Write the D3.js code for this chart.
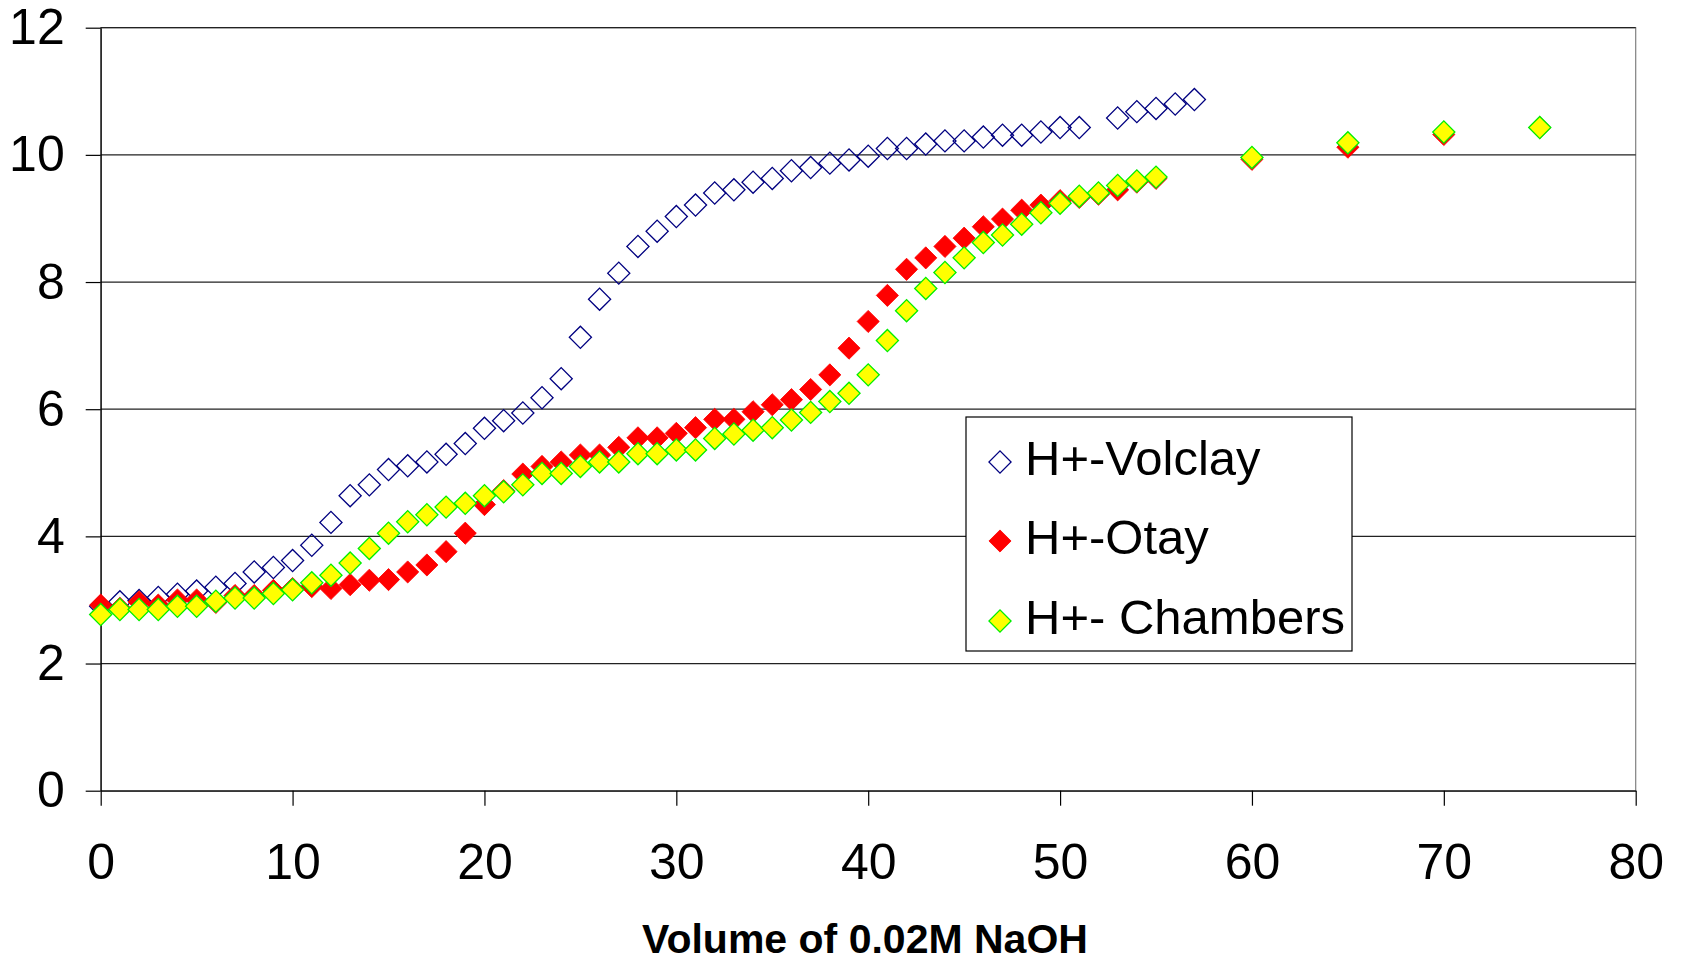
<!DOCTYPE html>
<html>
<head>
<meta charset="utf-8">
<script src="https://cdn.jsdelivr.net/npm/d3@7"></script>
<style>
  body { margin: 0; background: #fff; }
  text { font-family: Arial, "Liberation Sans", sans-serif; }
</style>
</head>
<body>
<div id="chart"></div>
<script>
// titration data (volume of NaOH vs pH)
const volclayVol = [0,1,2,3,4,5,6,7,8,9,10,11,12,13,14,15,16,17,18,19,20,21,22,23,24,25,26,27,28,29,
  30,31,32,33,34,35,36,37,38,39,40,41,42,43,44,45,46,47,48,49,50,51,53,54,55,56,57];
const volclayPH = [2.90,2.97,2.99,3.04,3.09,3.14,3.20,3.26,3.44,3.51,3.62,3.86,4.22,4.64,4.81,5.05,5.11,5.17,5.29,5.46,
  5.70,5.82,5.94,6.18,6.48,7.13,7.73,8.14,8.56,8.80,9.03,9.21,9.40,9.45,9.57,9.63,9.75,9.80,9.87,9.92,
  9.98,10.10,10.10,10.17,10.22,10.22,10.28,10.31,10.31,10.36,10.43,10.43,10.58,10.68,10.73,10.80,10.87];

const otayVol = [0,1,2,3,4,5,6,7,8,9,10,11,12,13,14,15,16,17,18,19,20,21,22,23,24,25,26,27,28,29,
  30,31,32,33,34,35,36,37,38,39,40,41,42,43,44,45,46,47,48,49,50,51,52,53,54,55,60,65,70,75];
const otayPH = [2.92,2.87,2.97,2.92,3.00,3.00,2.96,3.07,3.07,3.15,3.18,3.21,3.18,3.24,3.31,3.32,3.44,3.55,3.76,4.05,
  4.50,4.72,4.98,5.10,5.17,5.28,5.28,5.40,5.55,5.55,5.62,5.71,5.84,5.84,5.96,6.07,6.15,6.31,6.54,6.96,
  7.38,7.79,8.20,8.38,8.56,8.69,8.87,8.99,9.13,9.21,9.28,9.33,9.38,9.45,9.57,9.63,9.93,10.12,10.32,10.43];

const chambersVol = [0,1,2,3,4,5,6,7,8,9,10,11,12,13,14,15,16,17,18,19,20,21,22,23,24,25,26,27,28,29,
  30,31,32,33,34,35,36,37,38,39,40,41,42,43,44,45,46,47,48,49,50,51,52,53,54,55,60,65,70,75];
const chambersPH = [2.77,2.85,2.85,2.85,2.90,2.90,2.98,3.03,3.03,3.10,3.16,3.27,3.39,3.58,3.81,4.05,4.23,4.34,4.46,4.52,
  4.64,4.70,4.81,4.99,4.99,5.10,5.17,5.17,5.30,5.30,5.36,5.36,5.54,5.61,5.67,5.71,5.83,5.95,6.12,6.25,
  6.54,7.08,7.55,7.90,8.15,8.38,8.62,8.74,8.91,9.09,9.24,9.35,9.40,9.52,9.59,9.65,9.96,10.19,10.36,10.43];

const seriesNames = ["H+-Volclay", "H+-Otay", "H+- Chambers"];
const xTicks = [0, 10, 20, 30, 40, 50, 60, 70, 80];
const yTicks = [0, 2, 4, 6, 8, 10, 12];
const xTitle = "Volume of 0.02M NaOH";

const W = 1681, H = 963;
const plotL = 100.7, plotR = 1635.7, plotT = 27.7, plotB = 790.7;

const svg = d3.select("#chart").append("svg")
  .attr("width", W)
  .attr("height", H);

const x = d3.scaleLinear().domain([0, 80]).range([plotL, plotR]);
const y = d3.scaleLinear().domain([0, 12]).range([plotB, plotT]);

// plot area border (grey on the right)
svg.append("rect")
  .attr("x", plotL).attr("y", plotT)
  .attr("width", plotR - plotL).attr("height", plotB - plotT)
  .attr("fill", "none").attr("stroke", "#808080").attr("stroke-width", 1.2);

// horizontal gridlines
svg.append("g")
  .selectAll("line")
  .data(yTicks.slice(1))
  .join("line")
  .attr("x1", plotL).attr("x2", plotR)
  .attr("y1", d => y(d)).attr("y2", d => y(d))
  .attr("stroke", "#222").attr("stroke-width", 1.2);

// axes
const xAxis = svg.append("g")
  .attr("transform", `translate(0,${plotB})`)
  .call(d3.axisBottom(x).tickValues(xTicks).tickSize(15).tickPadding(38).tickSizeOuter(0));
const yAxis = svg.append("g")
  .attr("transform", `translate(${plotL},0)`)
  .call(d3.axisLeft(y).tickValues(yTicks).tickSize(15).tickPadding(21).tickSizeOuter(0));

[xAxis, yAxis].forEach(a => {
  a.select(".domain").attr("stroke", "#000").attr("stroke-width", 1.2);
  a.selectAll(".tick line").attr("stroke", "#000").attr("stroke-width", 1.2);
  a.selectAll(".tick text")
    .attr("fill", "#000")
    .style("font-family", "Arial, 'Liberation Sans', sans-serif")
    .style("font-size", "50px");
});

svg.append("text")
  .attr("x", 865)
  .attr("y", 953)
  .attr("text-anchor", "middle")
  .style("font-size", "41px")
  .style("font-weight", "bold")
  .text(xTitle);

// diamond marker: square rotated 45 degrees
const diamond = d3.symbol().type(d3.symbolSquare).size(245);

const styles = [
  { fill: "#fff", stroke: "#000080", sw: 1.3, fillOpacity: 0 },
  { fill: "#ff0000", stroke: "#ff0000", sw: 0.8, fillOpacity: 1 },
  { fill: "#ffff00", stroke: "#00ee00", sw: 1.3, fillOpacity: 1 }
];

const series = [
  volclayVol.map((v, i) => ({ x: v, y: volclayPH[i] })),
  otayVol.map((v, i) => ({ x: v, y: otayPH[i] })),
  chambersVol.map((v, i) => ({ x: v, y: chambersPH[i] }))
];

series.forEach((pts, k) => {
  svg.append("g")
    .selectAll("path")
    .data(pts)
    .join("path")
    .attr("d", diamond)
    .attr("transform", d => `translate(${x(d.x)},${y(d.y)}) rotate(45)`)
    .attr("fill", styles[k].fill)
    .attr("fill-opacity", styles[k].fillOpacity)
    .attr("stroke", styles[k].stroke)
    .attr("stroke-width", styles[k].sw);
});

// legend
const legend = svg.append("g").attr("transform", "translate(966,417)");
legend.append("rect")
  .attr("width", 386).attr("height", 234)
  .attr("fill", "#fff").attr("stroke", "#000").attr("stroke-width", 1.2);

const rowY = [45, 124, 204];
legend.selectAll("path")
  .data(seriesNames)
  .join("path")
  .attr("d", diamond)
  .attr("transform", (d, i) => `translate(34,${rowY[i]}) rotate(45)`)
  .attr("fill", (d, i) => styles[i].fill)
  .attr("fill-opacity", (d, i) => styles[i].fillOpacity)
  .attr("stroke", (d, i) => styles[i].stroke)
  .attr("stroke-width", (d, i) => styles[i].sw);

legend.selectAll("text")
  .data(seriesNames)
  .join("text")
  .attr("x", 59)
  .attr("y", (d, i) => rowY[i] + 13)
  .style("font-size", "49px")
  .text(d => d);
</script>
</body>
</html>
